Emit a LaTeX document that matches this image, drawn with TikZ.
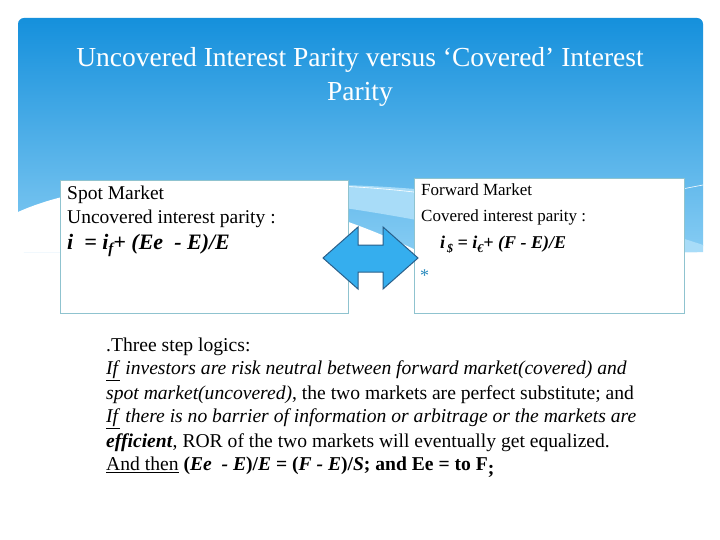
\documentclass[tikz,border=0pt]{standalone}
\usepackage{fontspec}
\setmainfont{Liberation Serif}
\definecolor{hdtop}{HTML}{1590DC}
\definecolor{hdbot}{HTML}{86CCF3}
\definecolor{band}{HTML}{A8DCF8}
\definecolor{arrfill}{HTML}{35AEEE}
\definecolor{arrline}{HTML}{2A5F8A}
\definecolor{boxline}{HTML}{8FC3CF}
\begin{document}
\begin{tikzpicture}[x=1pt,y=-1pt,
  mbox/.style={draw=boxline,line width=0.8pt,fill=white},
  bodytxt/.style={anchor=west,font=\fontsize{19.6}{24}\selectfont,inner sep=0pt}]
\useasboundingbox (0,0) rectangle (720,540);
\fill[white] (0,0) rectangle (720,540);
\shade[top color=hdtop,bottom color=hdbot,rounded corners=6pt] (18,18) rectangle (703,252);
\fill[band] (200,190) .. controls (400,170) and (600,210) .. (703,245) -- (703,252) -- (550,252) .. controls (450,220) and (300,200) .. (200,190);
\fill[white] (18,212) .. controls (100,175) and (250,170) .. (420,252) -- (18,252) -- cycle;
\draw[white,line width=0.6pt] (220,188) .. controls (400,175) and (550,210) .. (650,252);
\draw[white,line width=0.6pt] (450,252) .. controls (550,215) and (650,195) .. (703,185);
\node[font=\fontsize{27.5}{34}\selectfont,text=white,align=center] (title) at (360,77) {Uncovered Interest Parity versus ‘Covered’ Interest\\Parity};
\node[mbox,minimum width=288,minimum height=133,anchor=north west] (left) at (60,180) {};
\node[mbox,minimum width=270,minimum height=135,anchor=north west] (right) at (414,178) {};
\node[anchor=north west,inner sep=0pt,align=left,font=\fontsize{19.5}{24}\selectfont] (ltxt) at (67,186) {Spot Market\\Uncovered interest parity :};
\node[anchor=north west,inner sep=0pt,font=\fontsize{22}{24}\selectfont\bfseries\itshape] (leq) at (67,234) {i\ \ = i\raisebox{-4pt}{\fontsize{15}{15}\selectfont f}+ (Ee\ \ - E)/E};
\coordinate (arr) at (370,258);
\draw[draw=arrline,fill=arrfill,line width=1pt,line join=miter]
  (323,258) -- (358,227) -- (358,245) -- (383,245) -- (383,227) -- (418,258) -- (383,289) -- (383,272) -- (358,272) -- (358,289) -- cycle;
\node[anchor=north west,inner sep=0pt,align=left,font=\fontsize{17}{26}\selectfont] (rtxt) at (421,184) {Forward Market\\Covered interest parity :};
\node[anchor=north west,inner sep=0pt,font=\fontsize{18}{24}\selectfont\bfseries\itshape] (req) at (440,236) {i\raisebox{-4pt}{\fontsize{12}{12}\selectfont\,\$} = i\raisebox{-4pt}{\fontsize{12}{12}\selectfont €}+ (F - E)/E};
\node[anchor=north west,inner sep=0pt,text=arrfill!80!black,font=\fontsize{18}{18}\selectfont] (star) at (420,270) {*};
\node[bodytxt] (l1) at (106,347) {.Three step logics:};
\node[bodytxt] (l2) at (106,371) {\underline{\textit{If}}\textit{ investors are risk neutral between forward market(covered) and}};
\node[bodytxt] (l3) at (106,395) {\textit{spot market(uncovered)}, the two markets are perfect substitute; and};
\node[bodytxt] (l4) at (106,419) {\underline{\textit{If}}\textit{ there is no barrier of information or arbitrage or the markets are}};
\node[bodytxt] (l5) at (106,443) {\textbf{\textit{efficient}}, ROR of the two markets will eventually get equalized.};
\node[bodytxt] (l6) at (106,467) {\underline{And then} \textbf{(\textit{Ee\ \ - E})/\textit{E} = (\textit{F - E})/\textit{S}; and\ Ee = to F}\raisebox{-4pt}{\textbf{;}}};
\end{tikzpicture}
\end{document}
